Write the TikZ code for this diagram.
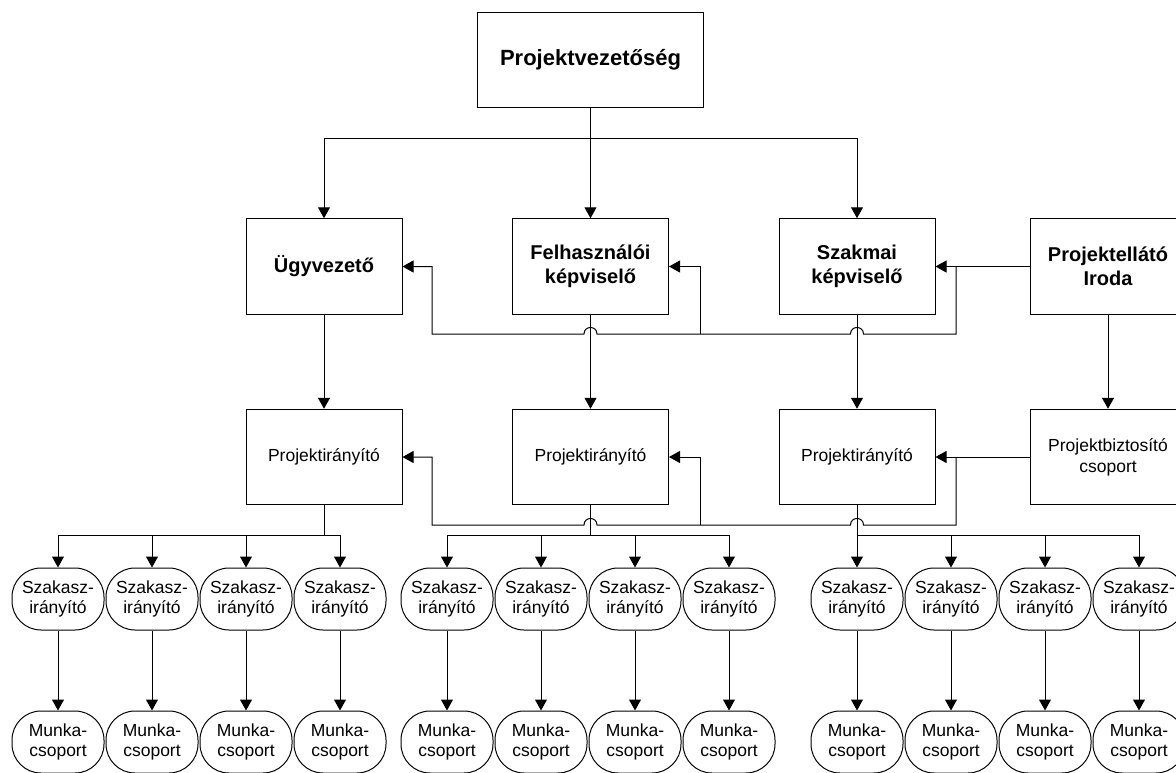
\documentclass[tikz,border=0pt]{standalone}
\usepackage{fontspec}
\setmainfont{Liberation Sans}
\usetikzlibrary{arrows.meta}
\tikzset{
  box/.style={draw, line width=1pt, minimum width=156pt, minimum height=95.5pt, inner sep=0pt, align=center, font=\fontsize{17.5}{21}\selectfont},
  bbox/.style={box, font=\fontsize{20}{24}\selectfont\bfseries},
  topbox/.style={box, minimum width=226pt, minimum height=95pt, font=\fontsize{22}{26}\selectfont\bfseries},
  rnd/.style={draw, line width=1pt, rounded corners=29pt, minimum width=92pt, minimum height=62pt, inner sep=0pt, align=center, font=\fontsize{17.5}{20}\selectfont},
  conn/.style={line width=1pt},
  arr/.style={conn, -{Triangle[length=11pt,width=12pt]}},
}
\begin{document}
\begin{tikzpicture}[x=1pt,y=-1pt]
\useasboundingbox (0,0) rectangle (1176,772);
\clip (0,0) rectangle (1176,772);
% top
\node[topbox] (pv) at (590.5,59.5) {Projektvezetőség};
% level 2
\node[bbox] (uv) at (324,266.5) {Ügyvezető};
\node[bbox] (fk) at (590.5,266.5) {Felhasználói\\képviselő};
\node[bbox] (sk) at (857,266.5) {Szakmai\\képviselő};
\node[bbox] (pi) at (1108,266.5) {Projektellátó\\Iroda};
% level 3
\node[box] (pr1) at (324,457) {Projektirányító};
\node[box] (pr2) at (590.5,457) {Projektirányító};
\node[box] (pr3) at (857,457) {Projektirányító};
\node[box] (pb) at (1108,457) {Projektbiztosító\\csoport};
% group nodes
\foreach \g/\xa in {1/58,2/447,3/857}{
  \foreach \i in {1,2,3,4}{
    \pgfmathsetmacro{\xx}{\xa+94*(\i-1)}
    \node[rnd] (s\g\i) at (\xx,599) {Szakasz-\\irányító};
    \node[rnd] (m\g\i) at (\xx,742) {Munka-\\csoport};
    \draw[arr] (s\g\i.south) -- (m\g\i.north);
  }
}
% top connectors
\coordinate (t) at (590.5,138);
\draw[conn] (pv.south) -- (t);
\draw[arr] (t) -| (uv.north);
\draw[arr] (t) -- (fk.north);
\draw[arr] (t) -| (sk.north);
% vertical level 2 -> 3
\draw[arr] (uv.south) -- (pr1.north);
\draw[arr] (fk.south) -- (pr2.north);
\draw[arr] (sk.south) -- (pr3.north);
\draw[arr] (pi.south) -- (pb.north);
% cross connectors level 2
\coordinate (ja) at (956,266.5);
\draw[arr] (pi.west) -- (sk.east);
\draw[arr] (ja) -- (956,334) -- (863.5,334) .. controls (863.5,325.3) and (850.5,325.3) .. (850.5,334)
  -- (597,334) .. controls (597,325.3) and (584,325.3) .. (584,334)
  -- (432,334) -- (432,266.5) -- (uv.east);
\draw[arr] (700,334) -- (700,266.5) -- (fk.east);
% cross connectors level 3
\coordinate (jb) at (956,457);
\draw[arr] (pb.west) -- (pr3.east);
\draw[arr] (jb) -- (956,525) -- (863.5,525) .. controls (863.5,516.3) and (850.5,516.3) .. (850.5,525)
  -- (597,525) .. controls (597,516.3) and (584,516.3) .. (584,525)
  -- (432,525) -- (432,457) -- (pr1.east);
\draw[arr] (700,525) -- (700,457) -- (pr2.east);
% buses
\coordinate (b1) at (324,535);
\coordinate (b2) at (590.5,535);
\coordinate (b3) at (857,535);
\draw[conn] (pr1.south) -- (b1);
\draw[conn] (pr2.south) -- (b2);
\draw[conn] (pr3.south) -- (b3);
\foreach \g in {1,2,3}{
  \foreach \i in {1,2,3,4}{
    \draw[arr] (b\g) -| (s\g\i.north);
  }
}
\end{tikzpicture}
\end{document}
